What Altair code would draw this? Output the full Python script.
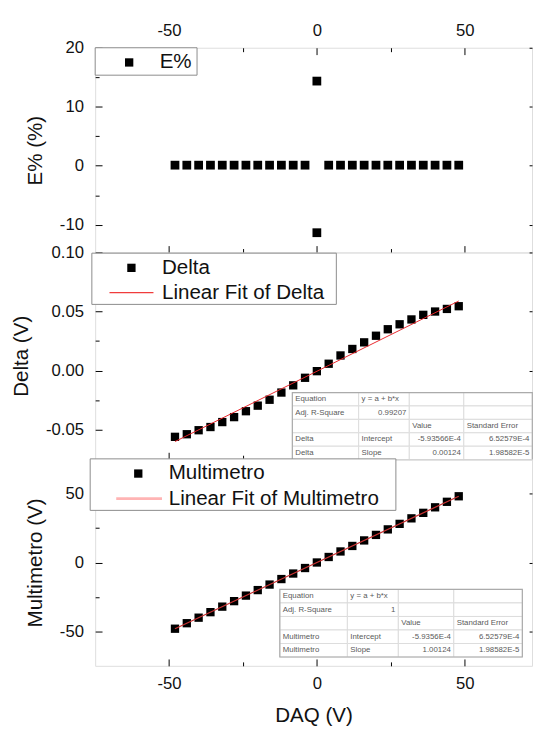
import altair as alt
import pandas as pd

# ------------------------------------------------------------------ data
daq = [-48, -44, -40, -36, -32, -28, -24, -20, -16, -12, -8, -4, 0,
       4, 8, 12, 16, 20, 24, 28, 32, 36, 40, 44, 48]
delta = [-0.0561, -0.0539, -0.0505, -0.0478, -0.0436, -0.0394, -0.0344,
         -0.0297, -0.0247, -0.0186, -0.0125, -0.0061, -0.0005, 0.0058,
         0.0128, 0.0183, 0.0239, 0.0295, 0.0350, 0.0392, 0.0433, 0.0472,
         0.0500, 0.0522, 0.0545]
multimetro = [-48.06, -44.06, -40.05, -36.05, -32.04, -28.04, -24.03, -20.03,
              -16.02, -12.02, -8.01, -4.01, 0.00, 4.00, 8.01, 12.01, 16.02,
              20.02, 24.03, 28.03, 32.04, 36.04, 40.05, 44.05, 48.06]
e_x = [-48, -44, -40, -36, -32, -28, -24, -20, -16, -12, -8, -4, 0, 0,
       4, 8, 12, 16, 20, 24, 28, 32, 36, 40, 44, 48]
e_pct = [0.1, 0.1, 0.1, 0.1, 0.1, 0.1, 0.1, 0.1, 0.1, 0.1, 0.1, 0.1, 14.35,
         -11.35, 0.1, 0.1, 0.1, 0.1, 0.1, 0.1, 0.1, 0.1, 0.1, 0.1, 0.1, 0.1]

fit_x = [-48, 48]
delta_fit = [-0.0601, 0.0589]
multi_fit = [-48.06, 48.06]

x_ticks = [-50, -25, 0, 25, 50]
e_ticks = [-10, -5, 0, 5, 10, 15, 20]
delta_ticks = [-0.05, -0.025, 0.0, 0.025, 0.05, 0.075, 0.1]
multi_ticks = [-50, -25, 0, 25, 50]

delta_table = [
    ["Equation", "y = a + b*x", "", ""],
    ["Adj. R-Square", "0.99207", "", ""],
    ["", "", "Value", "Standard Error"],
    ["Delta", "Intercept", "-5.93566E-4", "6.52579E-4"],
    ["Delta", "Slope", "0.00124", "1.98582E-5"],
]
multi_table = [
    ["Equation", "y = a + b*x", "", ""],
    ["Adj. R-Square", "1", "", ""],
    ["", "", "Value", "Standard Error"],
    ["Multimetro", "Intercept", "-5.9356E-4", "6.52579E-4"],
    ["Multimetro", "Slope", "1.00124", "1.98582E-5"],
]
RIGHT_CELLS = {(1, 1), (3, 2), (3, 3), (4, 2), (4, 3)}

# ---------------------------------------------------------------- layout
FONT = "Liberation Sans"
W = 446
H1, H2, H3 = 209, 211, 211
X_DOMAIN = [-75, 72.8]
Y1_DOMAIN = [-14.7, 20]
Y2_DOMAIN = [-0.075, 0.1]
Y3_DOMAIN = [-75, 75]
MINUS = "\u2212"


def x_axis(orient, show_labels, h, both_sides, title=None):
    if both_sides:
        major, minor = [7, h - 14, 7], [4, h - 8, 4]
    else:
        major, minor = [0, h - 7, 7], [0, h - 4, 4]
    kw = dict(
        orient=orient, values=x_ticks, domain=False, ticks=False, grid=True,
        gridColor="black", gridOpacity=1, gridWidth=1,
        gridDash={"condition": {"test": "datum.value % 50 == 0", "value": major},
                  "value": minor},
        labels=show_labels, title=title)
    if show_labels:
        kw.update(labelFont=FONT, labelFontSize=17, labelColor="#111",
                  labelPadding=8 if orient == "top" else 10,
                  labelFlush=False, labelOverlap=False,
                  labelExpr="datum.value % 50 == 0 ? replace(datum.label, '"
                  + MINUS + "', '-') : ''")
    if title:
        kw.update(titleFont=FONT, titleFontSize=21, titleFontWeight="normal",
                  titleColor="#111", titlePadding=14)
    return alt.Axis(**kw)


def y_axis(values, major_test, title, fmt=None):
    kw = dict(
        orient="left", values=values, domain=False, ticks=False, grid=True,
        gridColor="black", gridOpacity=1, gridWidth=1,
        gridDash={"condition": {"test": major_test, "value": [7, W - 10, 3]},
                  "value": [4, W - 4]},
        labelFont=FONT, labelFontSize=17, labelColor="#111", labelPadding=12,
        labelFlush=False, labelOverlap=False,
        labelExpr=major_test + " ? replace(datum.label, '" + MINUS + "', '-') : ''",
        title=title, titleFont=FONT, titleFontSize=21, titleFontWeight="normal",
        titleColor="#111", titlePadding=14)
    if fmt:
        kw["format"] = fmt
    return alt.Axis(**kw)


def px_enc(with2=True):
    enc = dict(x=alt.X("px:Q", scale=None, axis=None),
               y=alt.Y("py:Q", scale=None, axis=None))
    if with2:
        enc["x2"] = alt.X2("px2:Q")
        enc["y2"] = alt.Y2("py2:Q")
    return enc


def legend_layers(box, squares, lines, texts):
    layers = []
    bdf = pd.DataFrame([{"px": box[0], "px2": box[2], "py": box[1], "py2": box[3]}])
    layers.append(alt.Chart(bdf).mark_rect(fill="white", stroke="#8a8a8a",
                                           strokeWidth=1).encode(**px_enc()))
    sdf = pd.DataFrame([{"px": s[0], "py": s[1]} for s in squares])
    layers.append(alt.Chart(sdf).mark_point(shape="square", filled=True, size=72,
                                            color="black", opacity=1)
                  .encode(**px_enc(False)))
    for (x0, x1, y, col, sw) in lines:
        ldf = pd.DataFrame([{"px": x0, "px2": x1, "py": y - sw / 2, "py2": y + sw / 2}])
        layers.append(alt.Chart(ldf).mark_rect(fill=col).encode(**px_enc()))
    tdf = pd.DataFrame([{"px": t[0], "py": t[1], "t": t[2]} for t in texts])
    layers.append(alt.Chart(tdf).mark_text(align="left", baseline="middle", font=FONT,
                                           fontSize=21, color="#111")
                  .encode(text="t:N", **px_enc(False)))
    return layers


def table_layers(rows, x0, y0, col_w, row_h):
    xs = [x0]
    for w in col_w:
        xs.append(xs[-1] + w)
    cells, left_t, right_t = [], [], []
    for r, row in enumerate(rows):
        top = y0 + r * row_h
        for c, txt in enumerate(row):
            cells.append({"px": xs[c], "px2": xs[c + 1], "py": top, "py2": top + row_h})
            if txt:
                if (r, c) in RIGHT_CELLS:
                    right_t.append({"px": xs[c + 1] - 3, "py": top + row_h / 2, "t": txt})
                else:
                    left_t.append({"px": xs[c] + 3, "py": top + row_h / 2, "t": txt})
    outer = pd.DataFrame([{"px": xs[0], "px2": xs[-1], "py": y0,
                           "py2": y0 + row_h * len(rows)}])
    return [
        alt.Chart(pd.DataFrame(cells)).mark_rect(fill="white", stroke="#dcdcdc",
                                                 strokeWidth=1).encode(**px_enc()),
        alt.Chart(outer).mark_rect(fillOpacity=0, stroke="#ababab", strokeWidth=1.2)
        .encode(**px_enc()),
        alt.Chart(pd.DataFrame(left_t)).mark_text(align="left", baseline="middle",
                                                  font=FONT, fontSize=8, color="#5a5a5a")
        .encode(text="t:N", **px_enc(False)),
        alt.Chart(pd.DataFrame(right_t)).mark_text(align="right", baseline="middle",
                                                   font=FONT, fontSize=8, color="#5a5a5a")
        .encode(text="t:N", **px_enc(False)),
    ]


def fit_segment(fx, fy, ydom, h, color, width):
    """Fit segment: a single symbol whose line-shaped path spans the two fit
    end points, placed in panel pixels from the same domains as the axes."""
    sx = W / (X_DOMAIN[1] - X_DOMAIN[0])
    sy = h / (ydom[1] - ydom[0])
    p0 = ((fx[0] - X_DOMAIN[0]) * sx, (ydom[1] - fy[0]) * sy)
    p1 = ((fx[1] - X_DOMAIN[0]) * sx, (ydom[1] - fy[1]) * sy)
    dx = p1[0] - p0[0]
    k = (p1[1] - p0[1]) / dx
    df = pd.DataFrame([{"px": (p0[0] + p1[0]) / 2, "py": (p0[1] + p1[1]) / 2}])
    return alt.Chart(df).mark_point(
        shape="M-1,%.4fL1,%.4f" % (-k, k), size=dx * dx, filled=False,
        stroke=color, strokeWidth=width, opacity=1).encode(**px_enc(False))


xscale = alt.Scale(domain=X_DOMAIN, nice=False, zero=False)

# ------------------------------------------------------------ panel 1: E%
s1 = alt.Scale(domain=Y1_DOMAIN, nice=False, zero=False)
pts1 = alt.Chart(pd.DataFrame({"x": e_x, "y": e_pct})).mark_point(
    shape="square", filled=True, size=80, color="black", opacity=1).encode(
    x=alt.X("x:Q", scale=xscale, axis=x_axis("top", True, H1, True)),
    y=alt.Y("y:Q", scale=s1, axis=y_axis(e_ticks, "datum.value % 10 == 0", "E% (%)")))
panel1 = alt.layer(
    pts1,
    *legend_layers((0, 0, 104, 28), [(34.7, 15)], [], [(65.8, 15, "E%")]),
).properties(width=W, height=H1)

# --------------------------------------------------------- panel 2: Delta
s2 = alt.Scale(domain=Y2_DOMAIN, nice=False, zero=False)
pts2 = alt.Chart(pd.DataFrame({"x": daq, "y": delta})).mark_point(
    shape="square", filled=True, size=72, color="black", opacity=1).encode(
    x=alt.X("x:Q", scale=xscale, axis=x_axis("bottom", False, H2, False)),
    y=alt.Y("y:Q", scale=s2, axis=y_axis(
        delta_ticks, "(abs(round(datum.value * 1000)) % 50) == 0", "Delta (V)", ".2f")))
panel2 = alt.layer(
    pts2,
    fit_segment(fit_x, delta_fit, Y2_DOMAIN, H2, "#e8262b", 1),
    *table_layers(delta_table, 201.3, 143, [67.7, 51.7, 55.6, 70], 13.7),
    *legend_layers((-3.4, 0.7, 246.2, 53), [(37, 15.7)],
                   [(14.6, 59.5, 41, "#f03c3c", 1.4)],
                   [(68.2, 15.7, "Delta"), (68.2, 41, "Linear Fit of Delta")]),
).properties(width=W, height=H2)

# ---------------------------------------------------- panel 3: Multimetro
s3 = alt.Scale(domain=Y3_DOMAIN, nice=False, zero=False)
pts3 = alt.Chart(pd.DataFrame({"x": daq, "y": multimetro})).mark_point(
    shape="square", filled=True, size=72, color="black", opacity=1).encode(
    x=alt.X("x:Q", scale=xscale, axis=x_axis("bottom", True, H3, False, "DAQ (V)")),
    y=alt.Y("y:Q", scale=s3, axis=y_axis(multi_ticks, "datum.value % 50 == 0",
                                         "Multimetro (V)")))
panel3 = alt.layer(
    pts3,
    fit_segment(fit_x, multi_fit, Y3_DOMAIN, H3, "#c83232", 1.3),
    *table_layers(multi_table, 188.5, 133, [69, 52, 56.6, 70], 13.8),
    *legend_layers((-5.1, -0.3, 307, 52.3), [(44, 14.7)],
                   [(21.5, 68.2, 40.3, "#ffb4b4", 3)],
                   [(75.1, 14.7, "Multimetro"), (75.1, 40.3, "Linear Fit of Multimetro")]),
).properties(width=W, height=H3)

chart = alt.vconcat(panel1, panel2, panel3, spacing=0, bounds="flush").properties(
    padding={"left": 2, "top": 6, "right": 0, "bottom": 0},
    background="white",
).configure_view(stroke="black", strokeWidth=1.2).configure(font=FONT)

chart.save("out.html", embed_options={"renderer": "svg", "actions": False})
